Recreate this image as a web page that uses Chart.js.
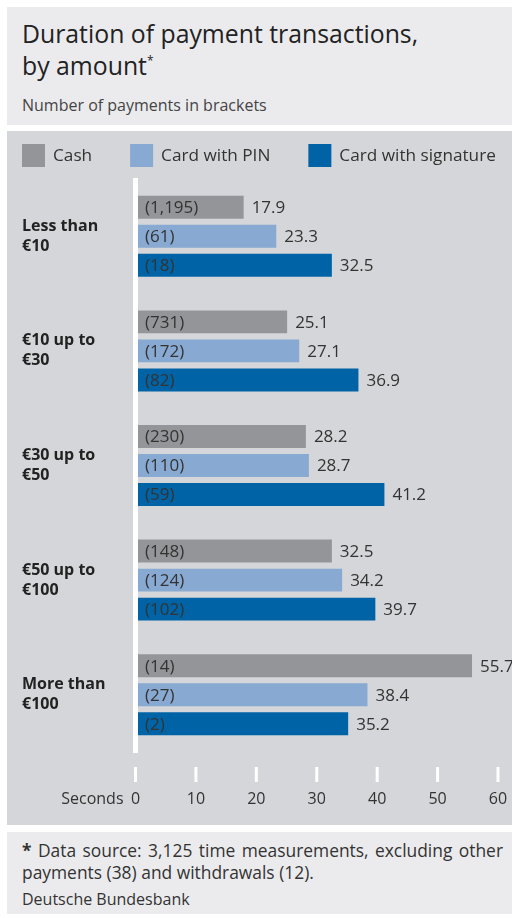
<!DOCTYPE html>
<html>
<head>
<meta charset="utf-8">
<script src="https://cdn.jsdelivr.net/npm/chart.js@4.4.0/dist/chart.umd.min.js"></script>
<style>
  body { margin: 0; background: #fff; width: 515px; height: 918px; position: relative; font-family: "Open Sans", sans-serif; color: #333; }
  #head { position: absolute; left: 7px; top: 7px; width: 505px; height: 118px; background: #ebebed; }
  #head h1 { position: absolute; left: 15px; top: 10px; margin: 0; font-size: 24.8px; font-weight: normal; line-height: 32px; color: #222; }
  #head h1 sup { font-size: 12px; vertical-align: top; position: relative; top: -4px; }
  #head p { position: absolute; left: 15px; top: 87px; margin: 0; font-size: 16px; color: #444; }
  #panel { position: absolute; left: 7px; top: 131px; width: 505px; height: 694px; background: #d5d6d9; }
  #foot { position: absolute; left: 7px; top: 832px; width: 505px; height: 82px; background: #ebebed; }
  #foot .note { position: absolute; left: 15px; top: 7px; width: 481px; margin: 0; font-size: 17.4px; line-height: 22px; text-align: justify; color: #333; }
  #foot .src { position: absolute; left: 15px; top: 56px; margin: 0; font-size: 16px; color: #333; }
</style>
</head>
<body>
<div id="head">
  <h1>Duration of payment transactions,<br>by amount<sup>*</sup></h1>
  <p>Number of payments in brackets</p>
</div>
<div id="panel"><canvas id="canvas" width="505" height="694"></canvas></div>
<div id="foot">
  <p class="note"><b>*</b> Data source: 3,125 time measurements, excluding other payments (38) and withdrawals (12).</p>
  <p class="src">Deutsche Bundesbank</p>
</div>
<script>
var categories = [['Less than', '€10'], ['€10 up to', '€30'], ['€30 up to', '€50'], ['€50 up to', '€100'], ['More than', '€100']];
var cash = [17.9, 25.1, 28.2, 32.5, 55.7];
var cardPin = [23.3, 27.1, 28.7, 34.2, 38.4];
var cardSig = [32.5, 36.9, 41.2, 39.7, 35.2];
var cashCount = [1195, 731, 230, 148, 14];
var pinCount = [61, 172, 110, 124, 27];
var sigCount = [18, 82, 59, 102, 2];
var xTicks = [0, 10, 20, 30, 40, 50, 60];

var counts = [cashCount, pinCount, sigCount];
var font = '"Open Sans", sans-serif';

var extras = {
  id: 'extras',
  afterDatasetsDraw: function(chart) {
    var ctx = chart.ctx, x = chart.scales.x, a = chart.chartArea;
    ctx.save();
    // white zero line
    ctx.fillStyle = '#fff';
    var x0 = x.getPixelForValue(0);
    ctx.fillRect(x0 - 2.5, a.top - 1, 5, a.bottom - a.top + 2);
    // detached tick marks
    xTicks.forEach(function(t) {
      var px = x.getPixelForValue(t);
      ctx.fillRect(px - 1.5, a.bottom + 15, 3, 15);
    });
    // bar labels
    ctx.font = '17px ' + font;
    ctx.textBaseline = 'middle';
    ctx.textAlign = 'left';
    ctx.fillStyle = '#333';
    chart.data.datasets.forEach(function(ds, i) {
      chart.getDatasetMeta(i).data.forEach(function(bar, j) {
        ctx.fillText('(' + counts[i][j].toLocaleString('en-US') + ')', bar.base + 9, bar.y + 1);
        ctx.fillText(ds.data[j].toFixed(1), bar.x + 8, bar.y + 1);
      });
    });
    // axis caption
    ctx.textAlign = 'right';
    ctx.font = '16px ' + font;
    ctx.fillText('Seconds', x0 - 12, a.bottom + 47);
    // legend
    var lx = 15;
    ctx.font = '17.2px ' + font;
    ctx.textAlign = 'left';
    chart.data.datasets.forEach(function(ds) {
      ctx.fillStyle = ds.backgroundColor;
      ctx.fillRect(lx, 13, 23, 23);
      ctx.fillStyle = '#333';
      ctx.fillText(ds.label, lx + 31, 25);
      lx += 31 + ctx.measureText(ds.label).width + 38;
    });
    ctx.restore();
  }
};

var ctx = document.getElementById('canvas').getContext('2d');
new Chart(ctx, {
  type: 'bar',
  data: {
    labels: categories,
    datasets: [
      { label: 'Cash', data: cash, backgroundColor: '#939598' },
      { label: 'Card with PIN', data: cardPin, backgroundColor: '#88a9d1' },
      { label: 'Card with signature', data: cardSig, backgroundColor: '#0063a6' }
    ]
  },
  options: {
    indexAxis: 'y',
    responsive: false,
    animation: false,
    categoryPercentage: 0.76,
    barPercentage: 0.79,
    layout: { padding: { left: 15, right: 14, top: 48, bottom: 0 } },
    plugins: { legend: { display: false }, tooltip: { enabled: false } },
    scales: {
      x: {
        min: 0, max: 60,
        afterFit: function(s) { s.height = 73; },
        grid: { display: true, drawOnChartArea: false, drawTicks: true, tickLength: 36, tickColor: 'rgba(0,0,0,0)' },
        border: { display: false },
        ticks: { stepSize: 10, padding: 2, color: '#333', font: { family: font, size: 16 } }
      },
      y: {
        afterFit: function(s) { s.width = 113.5; },
        grid: { display: false, drawTicks: false },
        border: { display: false },
        ticks: { crossAlign: 'far', color: '#222', font: { family: font, size: 16, weight: 'bold', lineHeight: 1.25 } }
      }
    }
  },
  plugins: [extras]
});
</script>
</body>
</html>
